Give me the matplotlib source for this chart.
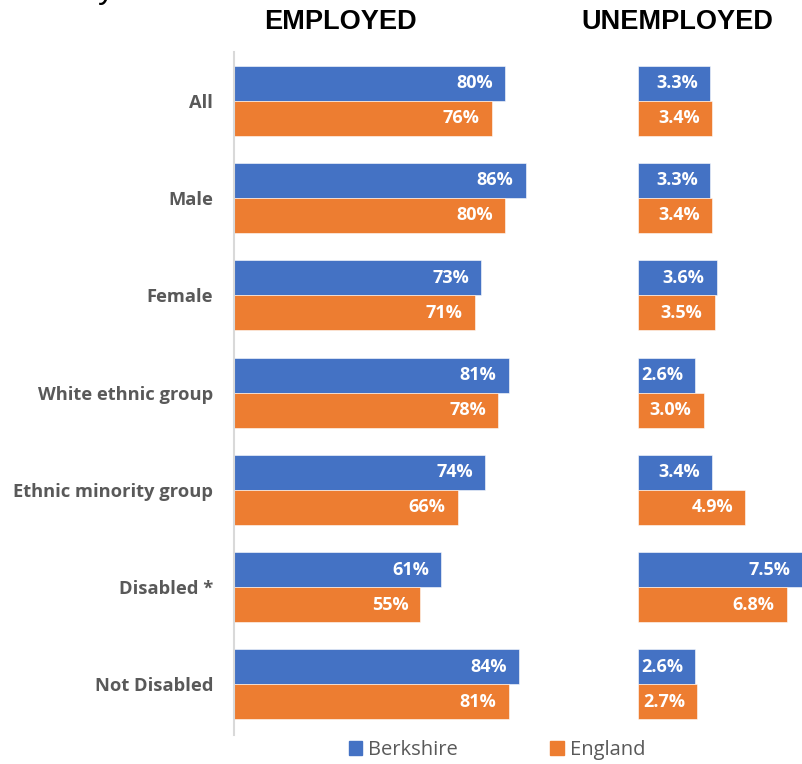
import matplotlib.pyplot as plt
import numpy as np

# data
categories = ['All', 'Male', 'Female', 'White ethnic group',
              'Ethnic minority group', 'Disabled *', 'Not Disabled']
emp_berks = [80, 86, 73, 81, 74, 61, 84]
emp_eng = [76, 80, 71, 78, 66, 55, 81]
unemp_berks = [3.3, 3.3, 3.6, 2.6, 3.4, 7.5, 2.6]
unemp_eng = [3.4, 3.4, 3.5, 3.0, 4.9, 6.8, 2.7]

blue = '#4472C4'
orange = '#ED7D31'
W, H = 802, 764
font = 'Open Sans'

fig = plt.figure(figsize=(W / 100, H / 100), dpi=100)

def px_axes(left, top, right, bottom):
    return fig.add_axes([left / W, 1 - bottom / H, (right - left) / W, (bottom - top) / H])

ax1 = px_axes(234, 52, 573, 735)
ax2 = px_axes(638, 52, 802, 735)

y = np.arange(len(categories))
h = 0.36

def draw(ax, b, e, fmt, xmax):
    ax.barh(y - h / 2, b, height=h, color=blue, edgecolor='white', linewidth=0.4)
    ax.barh(y + h / 2, e, height=h, color=orange, edgecolor='white', linewidth=0.4)
    for i in range(len(categories)):
        for val, off in ((b[i], -h / 2), (e[i], h / 2)):
            ax.annotate(fmt.format(val), (val, y[i] + off), xytext=(-12, 0),
                        textcoords='offset pixels', ha='right', va='center',
                        color='white', fontweight='bold', fontsize=13,
                        family=font)
    ax.set_xlim(0, xmax)
    ax.set_ylim(6.52, -0.5)
    ax.set_xticks([])
    for s in ax.spines.values():
        s.set_visible(False)
    ax.patch.set_alpha(0)

draw(ax1, emp_berks, emp_eng, '{:.0f}%', 100)
draw(ax2, unemp_berks, unemp_eng, '{:.1f}%', 7.5)

ax1.spines['left'].set_visible(True)
ax1.spines['left'].set_color('#d9d9d9')
ax1.spines['left'].set_linewidth(1.5)
ax1.set_yticks(y)
ax1.set_yticklabels(categories, fontweight='bold', fontsize=13.2,
                    color='#595959', family=font)
ax1.tick_params(axis='y', length=0, pad=15)
ax2.set_yticks([])

fig.text(340 / W, 1 - 22 / H, 'EMPLOYED', ha='center', va='center',
         fontsize=19.5, fontweight='bold', family='Liberation Sans')
fig.text(677 / W, 1 - 22 / H, 'UNEMPLOYED', ha='center', va='center',
         fontsize=19.5, fontweight='bold', family='Liberation Sans')
# clipped title fragment at the very top
fig.text(106 / W, 1 + 2 / H, 'y', ha='center', va='baseline',
         fontsize=24, family='Liberation Sans')

handles = [plt.Rectangle((0, 0), 1, 1, color=blue),
           plt.Rectangle((0, 0), 1, 1, color=orange)]
fig.legend(handles, ['Berkshire', 'England'], loc='center',
           bbox_to_anchor=(497 / W, 1 - 750 / H), ncol=2, frameon=False,
           handlelength=0.65, handleheight=0.65, columnspacing=4.6,
           handletextpad=0.3,
           prop={'family': font, 'size': 14.5}, labelcolor='#595959')

fig.savefig('out.png', dpi=100)
